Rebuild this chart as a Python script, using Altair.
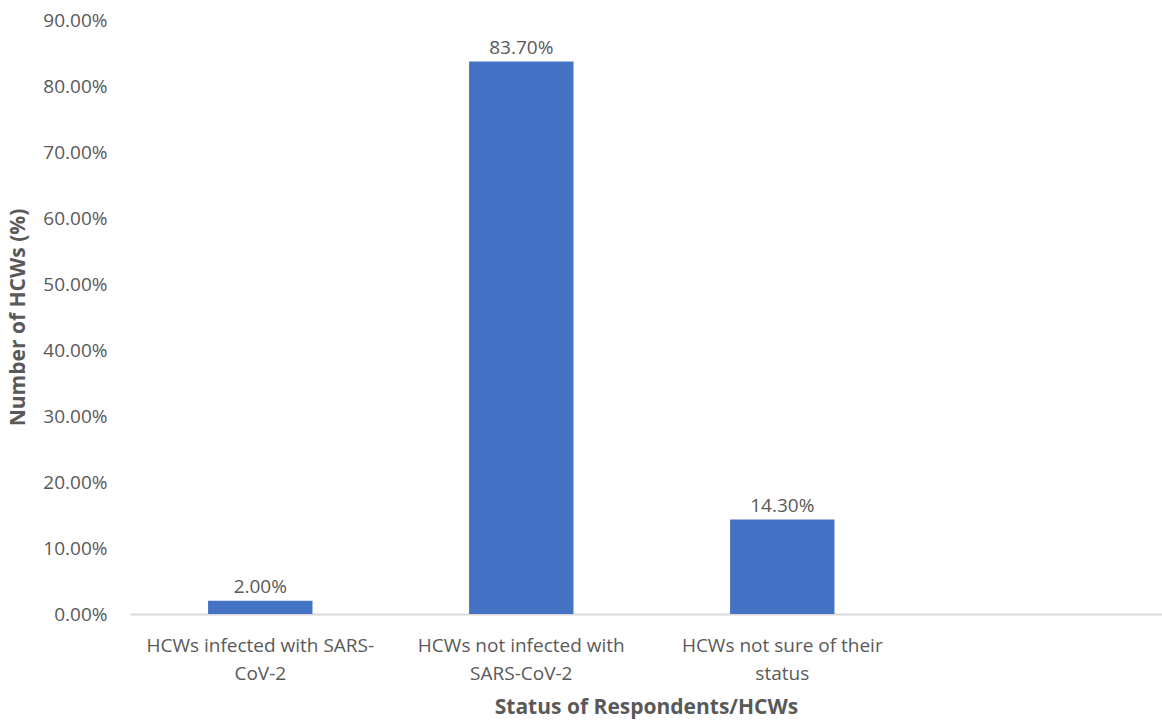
import altair as alt
import pandas as pd

categories = ["HCWs infected with SARS-|CoV-2",
              "HCWs not infected with|SARS-CoV-2",
              "HCWs not sure of their|status"]
values = [0.02, 0.837, 0.143]
labels = ["2.00%", "83.70%", "14.30%"]
domain = categories + [" "]

df = pd.DataFrame({"cat": categories, "val": values, "lab": labels})

FONT = "Open Sans"
GREY = "#595959"
LSIZE = 19
TSIZE = 21

x = alt.X("cat:N", sort=None,
          scale=alt.Scale(domain=domain, paddingInner=0.6, paddingOuter=0.277, align=0.54),
          axis=alt.Axis(title="Status of Respondents/HCWs", labelAngle=0,
                        labelExpr="split(datum.label, '|')", labelLineHeight=28, labelLimit=0,
                        labelPadding=22, ticks=False, domainColor="#d9d9d9", domainWidth=2,
                        labelFontSize=LSIZE, labelColor=GREY, labelFont=FONT,
                        titleFont=FONT, titleFontSize=TSIZE, titleColor=GREY, titleFontWeight="bold",
                        titlePadding=13))
y = alt.Y("val:Q", scale=alt.Scale(domain=[0, 0.9]),
          axis=alt.Axis(title="Number of HCWs (%)", format=".2%", values=[i/10 for i in range(10)],
                        grid=False, domain=False, ticks=False, labelPadding=23,
                        labelFontSize=LSIZE, labelColor=GREY, labelFont=FONT,
                        titleFont=FONT, titleFontSize=TSIZE, titleColor=GREY, titleFontWeight="bold",
                        titlePadding=14))

bars = alt.Chart(df).mark_bar(color="#4472C4").encode(x=x, y=y)
text = alt.Chart(df).mark_text(baseline="bottom", dy=-4, font=FONT, fontSize=LSIZE, color=GREY).encode(
    x=x, y=y, text="lab:N")

chart = (bars + text).properties(
    width=1032, height=594,
    background="white",
    autosize=alt.AutoSizeParams(type="none"),
    padding={"left": 130, "top": 20, "right": 0, "bottom": 108},
).configure_view(strokeWidth=0, stroke=None)

chart.save("out.html", embed_options={"renderer": "svg", "actions": False})
